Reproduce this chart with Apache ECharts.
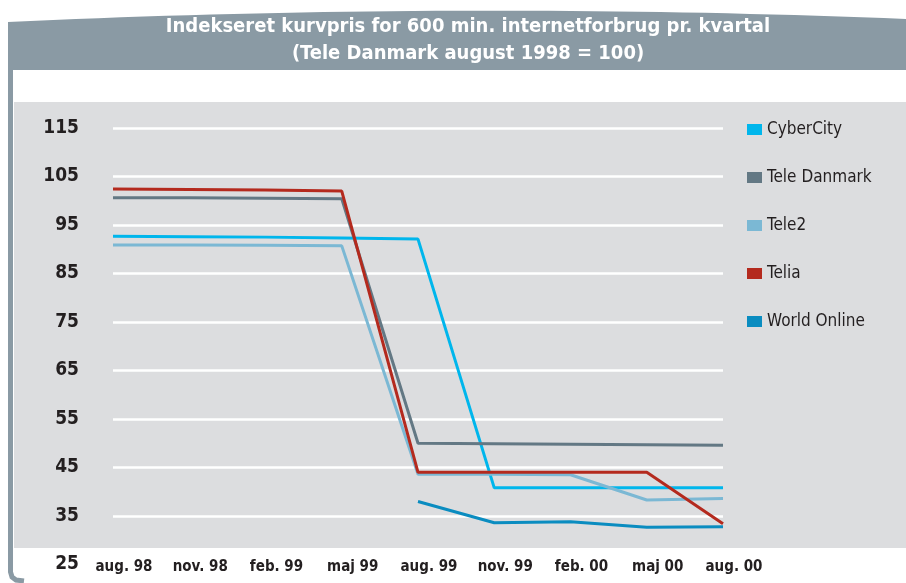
<!DOCTYPE html>
<html>
<head>
<meta charset="utf-8">
<script src="https://cdn.jsdelivr.net/npm/echarts@6/dist/echarts.min.js"></script>
<style>
  html, body { margin: 0; padding: 0; background: #fff; }
  #chart { width: 906px; height: 583px; }
</style>
</head>
<body>
<div id="chart"></div>
<script>
// 数据
const categories = ['aug. 98', 'nov. 98', 'feb. 99', 'maj 99', 'aug. 99', 'nov. 99', 'feb. 00', 'maj 00', 'aug. 00'];
const cyberCity   = [92.7, 92.6, 92.5, 92.3, 92.1, 40.8, 40.8, 40.8, 40.8];
const teleDanmark = [100.6, 100.6, 100.5, 100.4, 50.0, 49.9, 49.8, 49.7, 49.6];
const tele2       = [90.9, 90.9, 90.8, 90.7, 43.6, 43.6, 43.5, 38.3, 38.6];
const telia       = [102.4, 102.3, 102.2, 102.0, 44.0, 44.0, 44.0, 44.0, 33.4];
const worldOnline = [null, null, null, null, 38.0, 33.6, 33.8, 32.7, 32.8];

const FONT = 'DejaVu Sans Condensed';
const TXT = '#231f20';

// 标题栏的弧形顶边
function headerPoints() {
  let pts = [];
  for (let i = 0; i <= 40; i++) {
    let t = i / 40;
    let x = (1 - t) * (1 - t) * 8 + 2 * t * (1 - t) * 460 + t * t * 906;
    let y = (1 - t) * (1 - t) * 22 + 2 * t * (1 - t) * 1 + t * t * 19;
    pts.push([x, y]);
  }
  pts.push([906, 70], [8, 70]);
  return pts;
}

let myChart = echarts.init(document.getElementById('chart'), null, {renderer: 'canvas'});

function line(name, data, color) {
  return {
    name: name,
    type: 'line',
    data: data,
    symbol: 'none',
    connectNulls: false,
    lineStyle: { color: color, width: 3 },
    itemStyle: { color: color }
  };
}

let option = {
  animation: false,
  backgroundColor: '#ffffff',
  graphic: [
    // 灰色背景
    { type: 'rect', z: -10, shape: { x: 14, y: 102, width: 892, height: 446 }, style: { fill: '#dcdddf' } },
    // 标题栏
    { type: 'polygon', z: -10, shape: { points: headerPoints() }, style: { fill: '#8a9aa4' } },
    // 左侧竖条
    { type: 'polyline', z: -10, shape: { points: [[10.5, 70], [10.5, 572], [12, 577], [16, 580], [24, 581]] },
      style: { stroke: '#8a9aa4', lineWidth: 5, fill: null } }
  ],
  title: {
    text: 'Indekseret kurvpris for 600 min. internetforbrug pr. kvartal\n(Tele Danmark august 1998 = 100)',
    left: 463,
    textAlign: 'center',
    top: 8,
    textStyle: { color: '#fff', fontFamily: FONT, fontWeight: 'bold', fontSize: 20, lineHeight: 27 }
  },
  legend: {
    orient: 'vertical',
    left: 742,
    top: 116,
    icon: 'rect',
    itemWidth: 15,
    itemHeight: 11,
    itemGap: 31,
    textStyle: { color: TXT, fontFamily: FONT, fontSize: 17, lineHeight: 17 },
    data: ['CyberCity', 'Tele Danmark', 'Tele2', 'Telia', 'World Online']
  },
  grid: { left: 113, right: 183, top: 128, bottom: 18.5 },
  xAxis: {
    type: 'category',
    data: categories,
    boundaryGap: false,
    axisLine: { show: false },
    axisTick: { show: false },
    splitLine: { show: false },
    axisLabel: {
      margin: -5,
      interval: 0,
      padding: [0, 0, 0, 22],
      color: TXT,
      fontFamily: FONT,
      fontWeight: 'bold',
      fontSize: 15
    }
  },
  yAxis: {
    type: 'value',
    min: 25,
    max: 115,
    interval: 10,
    axisLine: { show: false },
    axisTick: { show: false },
    splitLine: { lineStyle: { color: '#ffffff', width: 2.5 } },
    axisLabel: { margin: 34, color: TXT, fontFamily: FONT, fontWeight: 'bold', fontSize: 19 }
  },
  series: [
    line('CyberCity', cyberCity, '#00b6ec'),
    line('Tele Danmark', teleDanmark, '#637884'),
    line('Tele2', tele2, '#7bb8d4'),
    line('Telia', telia, '#b42a1e'),
    line('World Online', worldOnline, '#0a8cc0')
  ]
};
myChart.setOption(option);
</script>
</body>
</html>
